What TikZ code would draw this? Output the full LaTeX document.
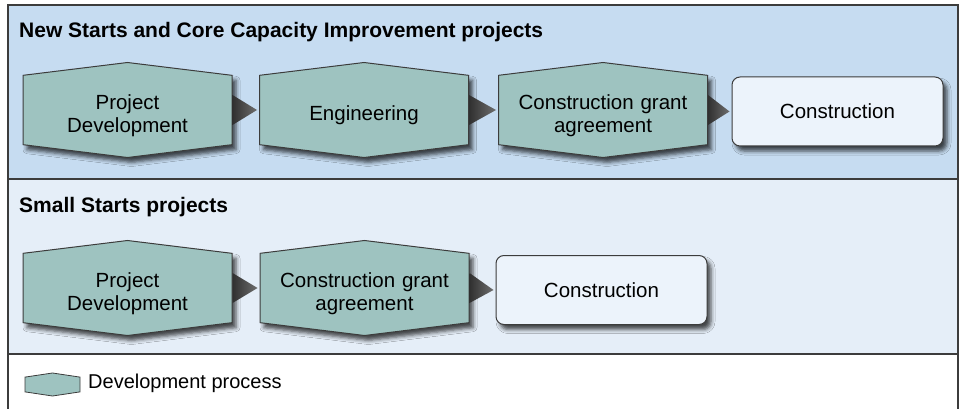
\documentclass[tikz,border=0pt]{standalone}
\usepackage{fontspec}
\setmainfont{Liberation Sans}
\usepackage{xcolor}
\usetikzlibrary{shapes.symbols,shadows.blur,calc}
\definecolor{fpblue}{RGB}{198, 220, 241}
\definecolor{fplight}{RGB}{229, 238, 248}
\definecolor{fpbox}{RGB}{236, 243, 251}
\definecolor{fpteal}{RGB}{158, 195, 192}
\definecolor{fpline}{RGB}{60, 60, 60}
\definecolor{fparrow}{RGB}{110, 110, 110}

\begin{document}
\begin{tikzpicture}[x=1pt,y=-1pt,
  stage/.style={signal, signal to=north and south, signal pointer angle=166,
    draw=fpline, line width=1pt, fill=fpteal, text width=207pt, text height=26pt,
    minimum height=95pt, inner xsep=1pt, inner ysep=0pt, align=center,
    font=\fontsize{20.5}{23}\selectfont,
    blur shadow={shadow xshift=4pt, shadow yshift=-5pt, shadow blur radius=4pt, shadow opacity=70}},
  finalbox/.style={rectangle, rounded corners=8pt, draw=fpline, line width=1pt,
    fill=fpbox, minimum width=211pt, minimum height=69pt, inner sep=0pt,
    font=\fontsize{20.5}{23}\selectfont,
    blur shadow={shadow xshift=4pt, shadow yshift=-5pt, shadow blur radius=4pt, shadow opacity=70}},
  flow/.style={left color=fpline!80!black, right color=fparrow},
  heading/.style={anchor=base west, inner sep=0pt, font=\bfseries\fontsize{21}{25}\selectfont},
  band/.style={draw=fpline, line width=1.5pt}]
\useasboundingbox (0,0) rectangle (962,409);

% Bands
\draw[band, fill=fpblue] (8,5) rectangle (958,179);
\draw[band, fill=fplight] (8,179) rectangle (958,354);
\draw[band] (8,354) -- (8,420);
\draw[band] (958,354) -- (958,420);

% Headings
\node[heading] (newstarts) at (19,38) {New Starts and Core Capacity Improvement projects};
\node[heading] (smallstarts) at (19,213) {Small Starts projects};

% New Starts row
\node[stage] (pd1) at (127.5,110) {Project\\Development};
\node[stage] (eng1) at (364,110) {Engineering};
\node[stage] (cga1) at (603,110) {Construction grant\\agreement};
\node[finalbox] (con1) at (837.5,111.5) {Construction};

% Small Starts row
\node[stage] (pd2) at (127.5,288) {Project\\Development};
\node[stage] (cga2) at (364.5,288) {Construction grant\\agreement};
\node[finalbox] (con2) at (601.5,290) {Construction};

% Arrows
\foreach \a/\b in {pd1/eng1, eng1/cga1, cga1/con1, pd2/cga2, cga2/con2}
  \shade[flow] ($(\a.east)+(0,-15)$) -- ($(\b.west)+(-2,0)$) -- ($(\a.east)+(0,15)$) -- cycle;

% Legend
\node[signal, signal to=north and south, signal pointer angle=163, draw=fpline,
  line width=0.8pt, fill=fpteal, text width=53pt, minimum height=23pt,
  inner xsep=1pt, inner ysep=0pt] (keyhex) at (52.5,384.5) {};
\node[anchor=base west, inner sep=0pt, font=\fontsize{20}{24}\selectfont]
  (keytext) at (88,388) {Development process};
\end{tikzpicture}
\end{document}
